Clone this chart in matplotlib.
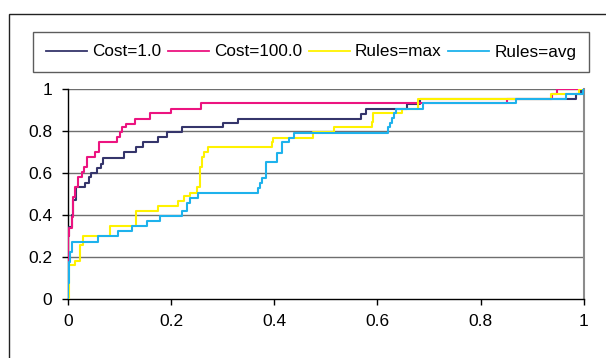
import matplotlib.pyplot as plt
from matplotlib.patches import Rectangle

plt.rcParams['font.family'] = ['Liberation Sans', 'DejaVu Sans']

# step curves (x where the new y value starts)
cost1_x = [0, 0, 0.003, 0.008, 0.011, 0.016, 0.034, 0.042, 0.046, 0.057, 0.065, 0.069,
           0.110, 0.132, 0.146, 0.174, 0.192, 0.222, 0.301, 0.330, 0.568, 0.577, 0.657,
           0.682, 0.985, 0.994, 1.0]
cost1_y = [0, 0.30, 0.344, 0.40, 0.47, 0.532, 0.554, 0.58, 0.60, 0.622, 0.643, 0.673,
           0.698, 0.722, 0.749, 0.773, 0.797, 0.820, 0.836, 0.858, 0.882, 0.906, 0.93,
           0.952, 0.976, 1.0, 1.0]

cost100_x = [0, 0, 0.003, 0.008, 0.010, 0.014, 0.019, 0.027, 0.032, 0.037, 0.052, 0.061,
             0.095, 0.101, 0.105, 0.113, 0.130, 0.159, 0.200, 0.258, 0.851, 0.938, 0.948, 1.0]
cost100_y = [0, 0.30, 0.34, 0.39, 0.487, 0.535, 0.58, 0.606, 0.63, 0.674, 0.701, 0.749,
             0.773, 0.797, 0.818, 0.833, 0.856, 0.884, 0.905, 0.932, 0.952, 0.976, 1.0, 1.0]

rmax_x = [0, 0.003, 0.014, 0.023, 0.029, 0.082, 0.132, 0.175, 0.213, 0.226, 0.237, 0.250,
          0.256, 0.260, 0.264, 0.272, 0.395, 0.398, 0.476, 0.515, 0.589, 0.592, 0.648,
          0.678, 0.937, 0.990, 1.0]
rmax_y = [0, 0.162, 0.182, 0.257, 0.300, 0.349, 0.420, 0.444, 0.468, 0.492, 0.506, 0.532,
          0.630, 0.675, 0.701, 0.722, 0.746, 0.768, 0.797, 0.818, 0.841, 0.884, 0.905,
          0.952, 0.976, 1.0, 1.0]

ravg_x = [0, 0, 0.003, 0.005, 0.008, 0.058, 0.098, 0.125, 0.154, 0.179, 0.221, 0.232,
          0.237, 0.253, 0.369, 0.372, 0.377, 0.385, 0.405, 0.416, 0.429, 0.438, 0.621,
          0.624, 0.628, 0.632, 0.636, 0.689, 0.868, 0.965, 0.999, 1.0]
ravg_y = [0, 0.075, 0.178, 0.225, 0.273, 0.302, 0.325, 0.349, 0.373, 0.397, 0.419, 0.456,
          0.482, 0.506, 0.530, 0.554, 0.578, 0.651, 0.697, 0.746, 0.768, 0.792, 0.818,
          0.836, 0.860, 0.884, 0.905, 0.932, 0.952, 0.976, 1.0, 1.0]

series = [
    ('Cost=1.0', cost1_x, cost1_y, '#35356b'),
    ('Cost=100.0', cost100_x, cost100_y, '#ec1480'),
    ('Rules=max', rmax_x, rmax_y, '#fff200'),
    ('Rules=avg', ravg_x, ravg_y, '#1eb2ec'),
]
ticks = [0, 0.2, 0.4, 0.6, 0.8, 1]
tick_labels = ['0', '0.2', '0.4', '0.6', '0.8', '1']

fig = plt.figure(figsize=(6.06, 3.58), dpi=100)
ax = fig.add_axes([67.7 / 606, 59 / 358, 516.3 / 606, 210 / 358])

# outer chart frame
fig.patches.append(Rectangle((8.5 / 606, -0.2), 1.2, 0.2 + (358 - 13.5) / 358,
                             transform=fig.transFigure, fill=False,
                             edgecolor='#222222', linewidth=1.0))

for t in ticks[1:]:
    ax.axhline(t, color='#6e6e6e', linewidth=1.0, zorder=1)

for name, xs, ys, c in series:
    ax.step(xs, ys, where='post', color=c, linewidth=1.5, label=name, zorder=3)

ax.set_xlim(0, 1)
ax.set_ylim(0, 1)
ax.set_xticks(ticks)
ax.set_xticklabels(tick_labels)
ax.set_yticks(ticks)
ax.set_yticklabels(tick_labels)
ax.tick_params(axis='both', direction='out', length=4, width=1, color='black',
               labelsize=12.5)
ax.tick_params(axis='x', pad=7)
ax.tick_params(axis='y', pad=7)

ax.spines['top'].set_visible(False)
ax.spines['right'].set_color('#8c8c8c')
ax.spines['right'].set_linewidth(1.5)
ax.spines['left'].set_color('black')
ax.spines['bottom'].set_color('black')
ax.spines['left'].set_linewidth(1.0)
ax.spines['bottom'].set_linewidth(1.0)

leg = fig.legend(loc='center', bbox_to_anchor=(311 / 606, 1 - 52 / 358), ncol=4,
                 fontsize=12.3, frameon=True, fancybox=False, borderpad=0.75,
                 handlelength=2.4, handletextpad=0.3, columnspacing=0.4,
                 borderaxespad=0)
leg.get_frame().set_edgecolor('#333333')
leg.get_frame().set_linewidth(1.0)
for line in leg.get_lines():
    line.set_linewidth(1.3)

fig.savefig('out.png', dpi=100)
